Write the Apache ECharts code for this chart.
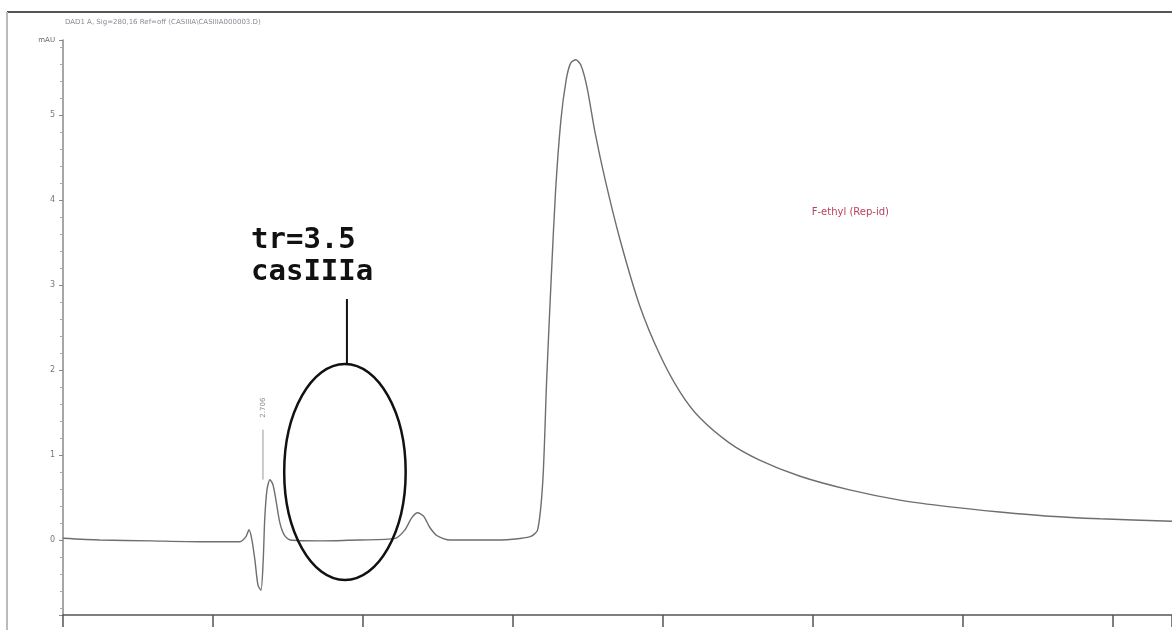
<!DOCTYPE html>
<html>
<head>
<meta charset="utf-8">
<script src="https://cdn.jsdelivr.net/npm/echarts@6/dist/echarts.min.js"></script>
<style>
html,body{margin:0;padding:0;background:#fff;}
#chart{width:1172px;height:630px;}
</style>
</head>
<body>
<div id="chart"></div>
<script>
// retention time (min)
const times = [0, 0.49, 1.16, 1.83, 2.36, 2.44, 2.48, 2.52, 2.56, 2.60, 2.64, 2.67, 2.69, 2.72, 2.76, 2.80, 2.84, 2.89, 2.95, 3.03, 3.43, 3.96, 4.43, 4.56, 4.65, 4.73, 4.81, 4.89, 4.99, 5.16, 5.83, 6.23, 6.33, 6.40, 6.45, 6.51, 6.57, 6.64, 6.71, 6.77, 6.84, 6.91, 6.99, 7.09, 7.23, 7.43, 7.69, 7.96, 8.23, 8.49, 8.89, 9.29, 9.83, 10.49, 11.16, 11.83, 12.49, 13.16, 13.83, 14.79];
// absorbance (mAU)
const signal = [0.02, 0, -0.01, -0.02, -0.02, 0.04, 0.12, 0, -0.24, -0.53, -0.59, -0.24, 0.24, 0.59, 0.71, 0.65, 0.47, 0.21, 0.06, 0, -0.01, 0, 0.02, 0.12, 0.26, 0.32, 0.28, 0.15, 0.05, 0, 0, 0.04, 0.12, 0.71, 1.88, 3.06, 4.12, 4.94, 5.41, 5.61, 5.65, 5.58, 5.32, 4.82, 4.24, 3.53, 2.76, 2.18, 1.74, 1.44, 1.14, 0.94, 0.75, 0.59, 0.47, 0.39, 0.33, 0.28, 0.25, 0.22];
const yTickLabels = ['0', '1', '2', '3', '4', '5'];
const titleText = 'DAD1 A, Sig=280,16 Ref=off (CASIIIA\\CASIIIA000003.D)';
const peakLabel = '2.706';
const peakTime = 2.72;
const annotationLines = ['tr=3.5', 'casIIIa'];
const ellipseCenter = [3.76, 0.8];
const ellipseRadius = [0.81, 1.27];
const sampleText = 'F-ethyl (Rep-id)';
const sampleTextPos = [10.5, 3.85];

const chart = echarts.init(document.getElementById('chart'), null, {renderer: 'canvas'});
const data = times.map((t, i) => [t, signal[i]]);

chart.setOption({
  animation: false,
  backgroundColor: '#ffffff',
  grid: {left: 63, right: 0, top: 40, bottom: 15, containLabel: false},
  xAxis: {
    type: 'value', min: 0, max: 14.79, minInterval: 2, maxInterval: 2,
    axisLine: {show: true, onZero: false, lineStyle: {color: '#555', width: 1.5}},
    axisTick: {show: true, length: 12, lineStyle: {color: '#555', width: 1.5}},
    axisLabel: {show: false},
    splitLine: {show: false}
  },
  yAxis: {
    type: 'value', min: -0.882, max: 5.882, minInterval: 1, maxInterval: 1,
    name: 'mAU', nameLocation: 'end', nameGap: 0,
    nameTextStyle: {color: '#666', fontSize: 7, align: 'right', verticalAlign: 'middle', padding: [0, 8, 0, 0], fontFamily: 'DejaVu Sans'},
    axisLine: {show: true, lineStyle: {color: '#888', width: 1.5}},
    axisTick: {show: true, length: 4, lineStyle: {color: '#888'}},
    minorTick: {show: true, splitNumber: 5, length: 3, lineStyle: {color: '#aaa'}},
    axisLabel: {
      show: true, color: '#777', fontSize: 8, margin: 8, fontFamily: 'DejaVu Sans',
      showMinLabel: false, showMaxLabel: false,
      formatter: v => { const i = Math.round(v); return (Math.abs(v - i) < 1e-6 && i >= 0 && i < yTickLabels.length) ? yTickLabels[i] : ''; }
    },
    splitLine: {show: false}
  },
  series: [{
    type: 'line', data: data, smooth: 0.25, symbol: 'none',
    lineStyle: {color: '#6e6e72', width: 1.4}
  }]
});

function place() {
  const c = chart.convertToPixel({gridIndex: 0}, ellipseCenter);
  const e = chart.convertToPixel({gridIndex: 0}, [ellipseCenter[0] + ellipseRadius[0], ellipseCenter[1] + ellipseRadius[1]]);
  const rx = e[0] - c[0], ry = c[1] - e[1];
  const top = c[1] - ry;
  const pk = chart.convertToPixel({gridIndex: 0}, [peakTime, 0.71]);
  const st = chart.convertToPixel({gridIndex: 0}, sampleTextPos);
  chart.setOption({
    graphic: [
      {type: 'line', shape: {x1: 7, y1: 12, x2: 1172, y2: 12}, style: {stroke: '#555', lineWidth: 2}},
      {type: 'line', shape: {x1: 7, y1: 12, x2: 7, y2: 630}, style: {stroke: '#bbb', lineWidth: 2}},
      {type: 'text', x: 65, y: 22, style: {text: titleText, fill: '#8a8a99', font: '7px "DejaVu Sans"', verticalAlign: 'middle'}},
      {type: 'ellipse', shape: {cx: c[0], cy: c[1], rx: rx, ry: ry}, style: {fill: 'none', stroke: '#111', lineWidth: 2.5}, z: 10},
      {type: 'line', shape: {x1: c[0] + 2, y1: top - 65, x2: c[0] + 2, y2: top}, style: {stroke: '#111', lineWidth: 2}, z: 10},
      {type: 'text', x: 251, y: top - 124, style: {text: annotationLines[0], fill: '#111', font: 'bold 29px "DejaVu Sans Mono"', verticalAlign: 'middle'}, z: 10},
      {type: 'text', x: 251, y: top - 92, style: {text: annotationLines[1], fill: '#111', font: 'bold 29px "DejaVu Sans Mono"', verticalAlign: 'middle'}, z: 10},
      {type: 'line', shape: {x1: pk[0] - 4, y1: pk[1] - 50, x2: pk[0] - 4, y2: pk[1]}, style: {stroke: '#999', lineWidth: 1}},
      {type: 'text', x: pk[0] - 4, y: pk[1] - 72, rotation: Math.PI / 2, style: {text: peakLabel, fill: '#888', font: '7px "DejaVu Sans"', align: 'center', verticalAlign: 'middle'}},
      {type: 'text', x: st[0], y: st[1], style: {text: sampleText, fill: '#b8405e', font: '10px "DejaVu Sans"', align: 'center', verticalAlign: 'middle'}}
    ]
  });
}
place();
</script>
</body>
</html>
